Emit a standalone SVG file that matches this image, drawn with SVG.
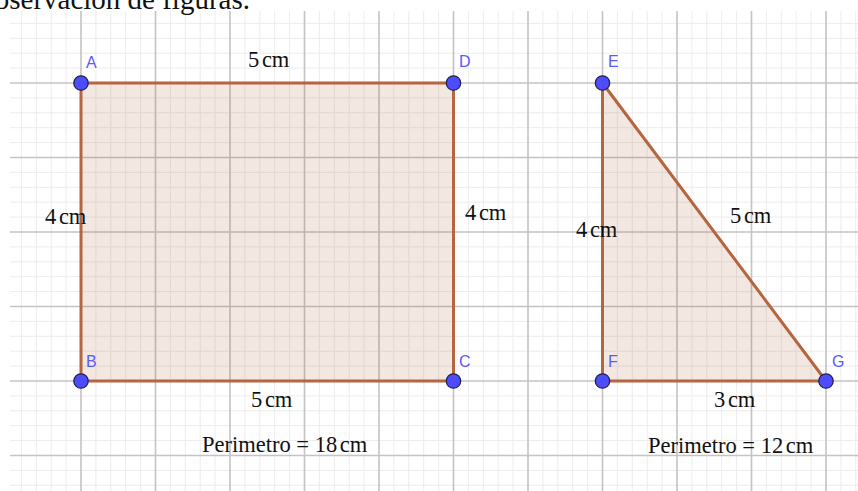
<svg xmlns="http://www.w3.org/2000/svg" width="858" height="491" viewBox="0 0 858 491">
<style>
.minor{stroke:#ececec;stroke-width:1;fill:none}
.major{stroke:#c4c4c4;stroke-width:1.6;fill:none}
.fill{fill:#a8552e;fill-opacity:0.14;stroke:none}
.edge{stroke:#b5653f;stroke-width:3;fill:none;stroke-linecap:round}
.pt{fill:#4d4dff;stroke:#22224a;stroke-width:1.3}
.pl{font-family:"Liberation Sans",Arial,sans-serif;font-size:16px;fill:#5a5aff}
.lb{font-family:"Liberation Serif","Times New Roman",serif;font-size:22.5px;fill:#111;word-spacing:-3px}
</style>
<rect width="858" height="491" fill="#ffffff"/>
<g id="grid">
<path class="minor" d="M21.4 11V491M36.3 11V491M51.2 11V491M66.1 11V491M95.9 11V491M110.8 11V491M125.7 11V491M140.6 11V491M170.4 11V491M185.3 11V491M200.2 11V491M215.1 11V491M244.9 11V491M259.8 11V491M274.7 11V491M289.6 11V491M319.4 11V491M334.3 11V491M349.2 11V491M364.1 11V491M393.9 11V491M408.8 11V491M423.7 11V491M438.6 11V491M468.4 11V491M483.3 11V491M498.2 11V491M513.1 11V491M542.9 11V491M557.8 11V491M572.7 11V491M587.6 11V491M617.4 11V491M632.3 11V491M647.2 11V491M662.1 11V491M691.9 11V491M706.8 11V491M721.7 11V491M736.6 11V491M766.4 11V491M781.3 11V491M796.2 11V491M811.1 11V491M840.9 11V491M855.8 11V491
M10 23.4H858M10 38.3H858M10 53.2H858M10 68.1H858M10 97.9H858M10 112.8H858M10 127.7H858M10 142.6H858M10 172.4H858M10 187.3H858M10 202.2H858M10 217.1H858M10 246.9H858M10 261.8H858M10 276.7H858M10 291.6H858M10 321.4H858M10 336.3H858M10 351.2H858M10 366.1H858M10 395.9H858M10 410.8H858M10 425.7H858M10 440.6H858M10 470.4H858M10 485.3H858"/>
<path class="major" d="M81 11V491M155.5 11V491M230 11V491M304.5 11V491M379 11V491M453.5 11V491M528 11V491M602.5 11V491M677 11V491M751.5 11V491M826 11V491M10 83H858M10 157.5H858M10 232H858M10 306.5H858M10 381H858M10 455.5H858"/>
</g>
<text x="250" y="9" text-anchor="end" style="font-family:'Liberation Serif','Times New Roman',serif;font-size:29px;fill:#111">Observación de figuras.</text>
<g id="rectangle-ABCD">
<polygon class="fill" points="81,83 453.5,83 453.5,381 81,381"/>
</g>
<g id="triangle-EFG">
<polygon class="fill" points="602.5,83 602.5,381 826,381"/>
</g>
<g id="connectors">
<line class="edge" x1="81" y1="83" x2="453.5" y2="83"/>
<line class="edge" x1="453.5" y1="83" x2="453.5" y2="381"/>
<line class="edge" x1="453.5" y1="381" x2="81" y2="381"/>
<line class="edge" x1="81" y1="381" x2="81" y2="83"/>
<line class="edge" x1="602.5" y1="83" x2="602.5" y2="381"/>
<line class="edge" x1="602.5" y1="381" x2="826" y2="381"/>
<line class="edge" x1="826" y1="381" x2="602.5" y2="83"/>
</g>
<g id="point-A"><circle class="pt" cx="81" cy="83" r="7.2"/><text class="pl" x="86" y="68">A</text></g>
<g id="point-D"><circle class="pt" cx="453.5" cy="83" r="7.2"/><text class="pl" x="459" y="67">D</text></g>
<g id="point-B"><circle class="pt" cx="81" cy="381" r="7.2"/><text class="pl" x="86" y="367">B</text></g>
<g id="point-C"><circle class="pt" cx="453.5" cy="381" r="7.2"/><text class="pl" x="459" y="367">C</text></g>
<g id="point-E"><circle class="pt" cx="602.5" cy="83" r="7.2"/><text class="pl" x="608" y="67">E</text></g>
<g id="point-F"><circle class="pt" cx="602.5" cy="381" r="7.2"/><text class="pl" x="608" y="367">F</text></g>
<g id="point-G"><circle class="pt" cx="826" cy="381" r="7.2"/><text class="pl" x="832" y="367">G</text></g>
<g id="labels">
<text class="lb" x="248" y="67">5 cm</text>
<text class="lb" x="45" y="224">4 cm</text>
<text class="lb" x="465" y="220">4 cm</text>
<text class="lb" x="576" y="237">4 cm</text>
<text class="lb" x="730" y="223">5 cm</text>
<text class="lb" x="251" y="407">5 cm</text>
<text class="lb" x="714" y="407">3 cm</text>
<text class="lb" x="202" y="452" style="word-spacing:0">Perimetro = 18<tspan style="word-spacing:-3px"> cm</tspan></text>
<text class="lb" x="648" y="453" style="word-spacing:0">Perimetro = 12<tspan style="word-spacing:-3px"> cm</tspan></text>
</g>
</svg>
